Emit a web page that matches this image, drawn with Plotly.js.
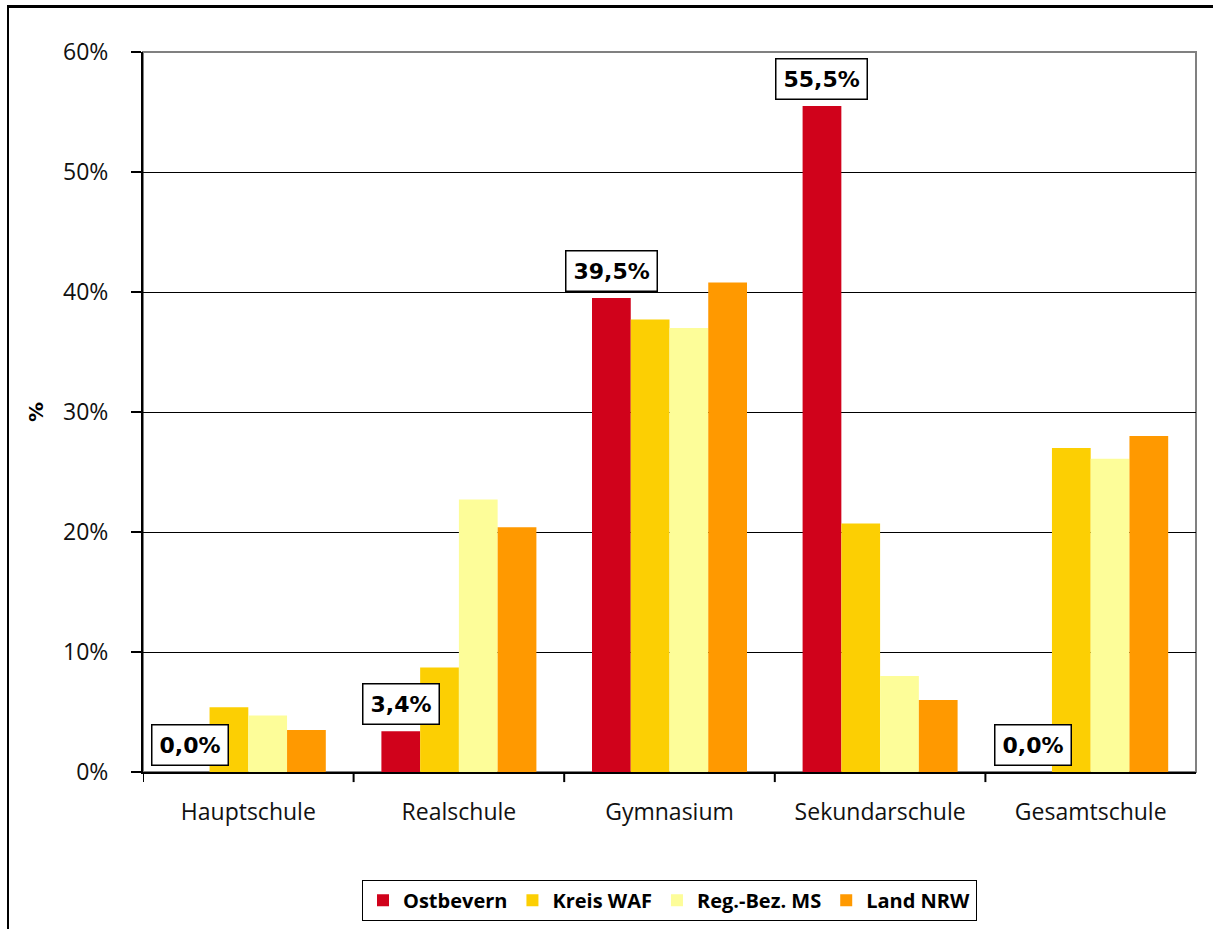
<!DOCTYPE html>
<html>
<head>
<meta charset="utf-8">
<script src="https://cdn.plot.ly/plotly-3.0.1.min.js"></script>
<style>
  html, body { margin: 0; padding: 0; background: #fff; }
  #wrap { position: relative; width: 1213px; height: 929px; }
  #chart { width: 1213px; height: 929px; }
  #frame { position: absolute; left: 7px; top: 5px; right: 0; bottom: 0;
           border-left: 2px solid #000; border-top: 3px solid #000; pointer-events: none; }
</style>
</head>
<body>
<div id="wrap">
  <div id="chart"></div>
  <div id="frame"></div>
</div>
<script>
const categories = ["Hauptschule", "Realschule", "Gymnasium", "Sekundarschule", "Gesamtschule"];
const seriesNames = ["Ostbevern", "Kreis WAF", "Reg.-Bez. MS", "Land NRW"];
const ostbevern = [0.0, 3.4, 39.5, 55.5, 0.0];
const kreisWAF  = [5.4, 8.7, 37.7, 20.7, 27.0];
const regBezMS  = [4.7, 22.7, 37.0, 8.0, 26.1];
const landNRW   = [3.5, 20.4, 40.8, 6.0, 28.0];
const yTickVals = [0, 10, 20, 30, 40, 50, 60];
const yTickText = ["0%", "10%", "20%", "30%", "40%", "50%", "60%"];

const colors = ["#D0021B", "#FCCF03", "#FDFD99", "#FF9900"];
const allSeries = [ostbevern, kreisWAF, regBezMS, landNRW];
const bargap = 0.264;

const traces = allSeries.map((vals, i) => ({
  type: "bar",
  name: seriesNames[i],
  x: categories.map((c, k) => k),
  y: vals,
  marker: { color: colors[i], line: { width: 0 } },
  hoverinfo: "skip"
}));

const barW = (1 - bargap) / seriesNames.length;
const annotations = ostbevern.map((v, k) => ({
  x: k - 1.5 * barW,
  y: v,
  xref: "x", yref: "y",
  text: v.toFixed(1).replace(".", ",") + "%",
  showarrow: false,
  xanchor: "center", yanchor: "bottom",
  yshift: 6,
  bgcolor: "#ffffff",
  bordercolor: "#000000",
  borderwidth: 1.5,
  borderpad: 7,
  font: { family: "DejaVu Sans", size: 22, color: "#000", weight: "bold" }
}));

const layout = {
  width: 1213, height: 929,
  margin: { l: 143, r: 17, t: 52, b: 157, autoexpand: false },
  paper_bgcolor: "rgba(0,0,0,0)",
  plot_bgcolor: "#ffffff",
  barmode: "group",
  bargap: bargap,
  bargroupgap: 0,
  showlegend: true,
  legend: {
    orientation: "h",
    xref: "paper", x: 0.5, xanchor: "center",
    yref: "container", y: 0.053, yanchor: "top",
    bgcolor: "#ffffff",
    bordercolor: "#000000",
    borderwidth: 1,
    font: { family: "Open Sans", size: 20, color: "#000", weight: "bold" },
    itemwidth: 30,
    traceorder: "normal"
  },
  xaxis: {
    type: "linear",
    range: [-0.5, 4.5],
    tickmode: "array",
    tickvals: [0, 1, 2, 3, 4],
    ticktext: categories,
    ticks: "",
    showgrid: false,
    showline: true,
    linecolor: "#000",
    linewidth: 2,
    zeroline: false,
    tickfont: { family: "Open Sans", size: 23, color: "#111" },
    ticklabelstandoff: 18,
    automargin: false,
    fixedrange: true
  },
  yaxis: {
    range: [0, 60],
    tickmode: "array",
    tickvals: yTickVals,
    ticktext: yTickText,
    ticks: "outside",
    ticklen: 10,
    tickwidth: 1.5,
    tickcolor: "#000",
    showgrid: true,
    gridcolor: "#000",
    gridwidth: 1,
    showline: true,
    linecolor: "#000",
    linewidth: 2,
    zeroline: false,
    tickfont: { family: "Open Sans", size: 23, color: "#111" },
    ticklabelstandoff: 18,
    automargin: false,
    title: { text: "%", font: { family: "DejaVu Sans", size: 20, color: "#000", weight: "bold" }, standoff: 14 },
    fixedrange: true
  },
  shapes: [
    { type: "rect", xref: "paper", yref: "paper", x0: 0, x1: 1, y0: 0, y1: 1,
      line: { color: "#808080", width: 2 }, layer: "below" }
  ],
  annotations: annotations
};

// boundary ticks on the category axis
const bounds = [-0.5, 0.5, 1.5, 2.5, 3.5];
bounds.forEach(b => {
  layout.shapes.push({
    type: "line", xref: "x", yref: "paper", x0: b, x1: b, y0: 0, y1: -0.014,
    line: { color: "#000", width: 2 }
  });
});

Plotly.newPlot("chart", traces, layout, { displayModeBar: false, staticPlot: true });
</script>
</body>
</html>
